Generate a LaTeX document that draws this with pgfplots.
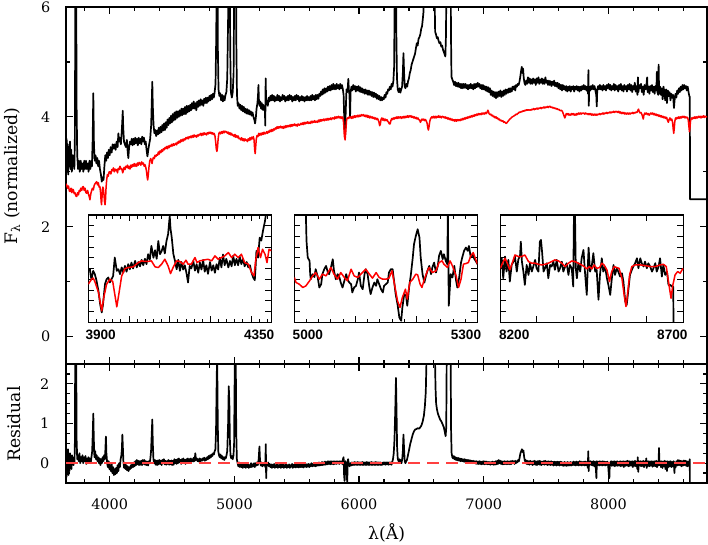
\documentclass[border=0pt]{standalone}
\usepackage{fontspec}
\setmainfont{DejaVu Serif}
\newfontfamily\insetfont{Liberation Sans}
\usepackage{pgfplots}
\pgfplotsset{compat=1.18}
\definecolor{zerored}{rgb}{1,0.25,0.25}

\pgfplotsset{
  spec/.style={
    scale only axis, anchor=south west,
    tick align=inside,
    axis line style={line width=0.7pt},
    every tick/.style={black, line width=0.6pt},
    major tick length=3.5pt, minor tick length=2.2pt,
    ticklabel style={font=\fontsize{7.2}{8}\selectfont},
    /pgf/number format/assume math mode=true,
    /pgf/number format/1000 sep={},
    scaled ticks=false,
    clip mode=individual,
  },
  inset/.style={
    scale only axis, anchor=south west,
    width=91.6pt, height=53.7pt,
    tick align=inside,
    axis background/.style={fill=white},
    axis line style={line width=0.6pt},
    every tick/.style={black, line width=0.5pt},
    major tick length=3pt, minor tick length=1.8pt,
    xticklabels={}, yticklabels={},
    ymin=-0.72, ymax=9.28,
    ytick={0.28,1.28,2.28,3.28,4.28,5.28,6.28,7.28,8.28},
    clip mode=individual,
  },
  obs/.style={black, line width=0.85pt, line join=round},
  mod/.style={red, line width=0.75pt, line join=round},
}
\tikzset{inlab/.style={font=\insetfont\bfseries\fontsize{6.8}{8}\selectfont, inner sep=0pt}}

\begin{document}
\begin{tikzpicture}
\useasboundingbox (0,0) rectangle (354pt,272.5pt);

% ---------------- main spectrum panel ----------------
\begin{axis}[spec, name=main, at={(33pt,90.5pt)}, width=320.5pt, height=178.5pt,
  xmin=3650, xmax=8790, ymin=-0.5, ymax=6,
  xtick={4000,5000,6000,7000,8000}, minor xtick={3800,4000,...,8600}, xticklabels={},
  ytick={0,2,4,6}, minor ytick={1,3,5},
  yticklabel style={xshift=-4.3pt}]
% observed
\addplot[obs] coordinates {
(3650,3.2) (3655,3.6) (3660,3.0) (3664,3.5) (3668,2.95) (3672,3.45) (3677,3.1) (3682,3.55) (3687,3.05) (3692,3.4)
(3697,3.0) (3702,3.3) (3707,3.1) (3712,3.25) (3717,3.05) (3721,3.6) (3724,5.5) (3727,7) (3731,7) (3735,4.2)
(3740,3.3) (3747,3.05) (3754,3.2) (3761,3.0) (3768,3.2) (3775,3.05) (3782,3.15) (3789,3.0) (3796,3.2) (3803,3.05)
(3810,3.2) (3817,3.05) (3824,3.15) (3831,3.0) (3838,3.2) (3845,3.05) (3852,3.2) (3858,3.1) (3864,3.6) (3869,4.43)
(3874,3.5) (3880,3.2) (3887,3.3) (3894,3.15) (3901,3.25) (3908,3.1) (3915,3.2) (3922,3.05) (3930,2.95) (3937,2.82)
(3944,2.9) (3951,2.85) (3958,3.1) (3965,3.3) (3972,3.2) (3979,3.35) (3986,3.25) (3993,3.4) (4000,3.3) (4008,3.45)
(4016,3.35) (4024,3.5) (4032,3.42) (4040,3.5) (4048,3.4) (4056,3.55) (4064,3.45) (4070,3.7) (4076,3.55) (4083,3.62)
(4090,3.5) (4096,3.7) (4101,3.9) (4105,4.11) (4109,3.8) (4115,3.55) (4122,3.5) (4130,3.45) (4138,3.58) (4145,3.35)
(4150,3.25) (4156,3.45) (4163,3.55) (4170,3.5) (4177,3.6) (4184,3.48) (4191,3.6) (4198,3.5) (4205,3.62) (4212,3.52)
(4219,3.6) (4226,3.48) (4233,3.62) (4240,3.52) (4247,3.6) (4254,3.5) (4261,3.64) (4268,3.55) (4275,3.62) (4282,3.5)
(4289,3.55) (4296,3.4) (4303,3.28) (4310,3.4) (4317,3.5) (4325,3.6) (4333,3.85) (4338,4.3) (4342,4.64) (4346,4.2)
(4352,3.85) (4359,3.7) (4366,3.76) (4373,3.65) (4380,3.75) (4387,3.68) (4394,3.8) (4401,3.7) (4408,3.82) (4415,3.72)
(4422,3.85) (4429,3.75) (4436,3.88) (4443,3.76) (4450,3.9) (4457,3.8) (4464,3.95) (4471,3.85) (4478,3.98) (4485,3.88)
(4492,4.02) (4499,3.9) (4506,4.05) (4513,3.93) (4520,4.08) (4527,3.95) (4534,4.1) (4541,3.98) (4548,4.1) (4555,4.0)
(4562,4.12) (4569,4.02) (4576,4.15) (4583,4.03) (4590,4.15) (4597,4.05) (4604,4.18) (4611,4.05) (4618,4.2) (4625,4.08)
(4632,4.2) (4639,4.1) (4646,4.22) (4653,4.12) (4660,4.25) (4667,4.15) (4674,4.28) (4681,4.15) (4688,4.25) (4695,4.12)
(4702,4.28) (4709,4.18) (4716,4.3) (4723,4.2) (4730,4.32) (4737,4.22) (4744,4.3) (4751,4.2) (4758,4.33) (4765,4.25)
(4772,4.35) (4779,4.25) (4786,4.35) (4793,4.28) (4800,4.38) (4807,4.3) (4814,4.4) (4821,4.32) (4828,4.42) (4835,4.35)
(4842,4.45) (4849,4.6) (4855,5.5) (4859,7) (4864,7) (4868,5.2) (4873,4.5) (4880,4.38) (4887,4.43) (4894,4.3)
(4901,4.4) (4908,4.28) (4915,4.38) (4922,4.3) (4929,4.4) (4936,4.45) (4943,4.7) (4950,5.8) (4955,7) (4962,7)
(4967,5.2) (4972,4.45) (4980,4.35) (4987,4.45) (4994,4.8) (4999,6.5) (5003,7) (5012,7) (5016,5.3) (5021,4.4)
(5027,4.2) (5034,4.25) (5041,4.15) (5048,4.22) (5055,4.12) (5062,4.2) (5069,4.1) (5076,4.18) (5083,4.08) (5090,4.15)
(5097,4.06) (5104,4.14) (5111,4.05) (5118,4.12) (5125,4.04) (5132,4.1) (5139,4.02) (5146,4.08) (5153,4.0) (5160,3.95)
(5166,3.88) (5172,3.98) (5178,4.15) (5185,4.25) (5190,4.4) (5193,4.58) (5197,4.3) (5202,4.2) (5208,4.28) (5214,4.15)
(5220,4.25) (5226,4.13) (5232,4.22) (5238,4.12) (5244,4.2) (5248,3.84) (5251,4.7) (5255,4.25) (5261,4.3) (5268,4.2)
(5275,4.35) (5282,4.28) (5289,4.38) (5296,4.3) (5303,4.4) (5310,4.3) (5317,4.38) (5324,4.28) (5331,4.36) (5338,4.3)
(5345,4.4) (5352,4.3) (5359,4.38) (5366,4.28) (5373,4.36) (5380,4.3) (5387,4.4) (5394,4.32) (5401,4.38) (5408,4.28)
(5415,4.36) (5422,4.3) (5429,4.38) (5436,4.3) (5443,4.4) (5450,4.32) (5457,4.38) (5464,4.28) (5471,4.36) (5478,4.3)
(5485,4.38) (5492,4.3) (5499,4.4) (5506,4.32) (5513,4.38) (5520,4.28) (5527,4.36) (5534,4.3) (5541,4.38) (5548,4.3)
(5555,4.36) (5562,4.28) (5569,4.36) (5576,4.3) (5583,4.38) (5590,4.3) (5597,4.36) (5604,4.3) (5611,4.38) (5618,4.3)
(5625,4.4) (5632,4.32) (5639,4.38) (5646,4.3) (5653,4.4) (5660,4.32) (5667,4.4) (5674,4.33) (5681,4.42) (5688,4.38)
(5695,4.46) (5702,4.4) (5709,4.5) (5716,4.42) (5723,4.52) (5730,4.44) (5737,4.52) (5744,4.46) (5751,4.55) (5758,4.48)
(5765,4.56) (5772,4.48) (5779,4.58) (5786,4.5) (5793,4.6) (5800,4.5) (5807,4.58) (5814,4.5) (5821,4.6) (5828,4.52)
(5835,4.58) (5842,4.5) (5849,4.6) (5856,4.52) (5863,4.58) (5870,4.5) (5876,4.4) (5882,3.9) (5888,3.64) (5893,4.1)
(5899,4.5) (5905,4.45) (5910,4.55) (5914,4.69) (5918,4.5) (5923,4.4) (5928,4.0) (5932,4.45) (5939,4.55) (5946,4.48)
(5953,4.58) (5960,4.5) (5967,4.56) (5974,4.46) (5981,4.55) (5988,4.48) (5995,4.56) (6002,4.46) (6009,4.54) (6016,4.45)
(6023,4.52) (6030,4.44) (6037,4.5) (6044,4.42) (6051,4.5) (6058,4.42) (6065,4.48) (6072,4.4) (6079,4.48) (6086,4.4)
(6093,4.46) (6100,4.38) (6107,4.45) (6114,4.36) (6121,4.44) (6128,4.36) (6135,4.42) (6142,4.33) (6149,4.4) (6156,4.32)
(6163,4.38) (6170,4.3) (6177,4.36) (6184,4.3) (6191,4.35) (6198,4.32) (6205,4.4) (6212,4.35) (6219,4.45) (6226,4.42)
(6233,4.5) (6240,4.48) (6247,4.55) (6254,4.5) (6261,4.6) (6268,4.55) (6275,4.65) (6281,4.9) (6285,6) (6289,7)
(6295,7) (6299,5.5) (6304,4.7) (6310,4.5) (6317,4.45) (6324,4.52) (6331,4.44) (6338,4.5) (6345,4.55) (6351,4.8)
(6356,5.16) (6361,4.8) (6366,4.55) (6372,4.52) (6379,4.6) (6386,4.55) (6393,4.65) (6400,4.7) (6407,4.8) (6414,4.85)
(6421,4.95) (6428,5.0) (6435,5.05) (6442,5.1) (6449,5.15) (6456,5.25) (6463,5.34) (6470,5.3) (6477,5.42) (6484,5.45)
(6491,5.5) (6498,5.6) (6505,5.65) (6512,5.8) (6516,5.9) (6520,6.2) (6525,7) (6600,7) (6605,6.3) (6610,5.55)
(6617,5.5) (6624,5.43) (6631,5.45) (6638,5.38) (6645,5.34) (6652,5.36) (6659,5.28) (6666,5.3) (6673,5.22) (6680,5.18)
(6687,5.13) (6692,5.1) (6697,5.5) (6702,7) (6734,7) (6737,5.5) (6741,4.73) (6748,4.68) (6755,4.64) (6762,4.58)
(6769,4.64) (6776,4.56) (6783,4.62) (6790,4.55) (6797,4.62) (6804,4.54) (6811,4.6) (6818,4.52) (6825,4.6) (6832,4.52)
(6839,4.6) (6846,4.53) (6853,4.6) (6860,4.52) (6867,4.58) (6874,4.5) (6881,4.58) (6888,4.52) (6895,4.6) (6902,4.52)
(6909,4.58) (6916,4.5) (6923,4.6) (6930,4.52) (6937,4.6) (6944,4.54) (6951,4.62) (6958,4.55) (6965,4.6) (6972,4.52)
(6979,4.58) (6986,4.5) (6993,4.58) (7000,4.5) (7007,4.56) (7014,4.48) (7021,4.55) (7028,4.46) (7035,4.54) (7042,4.45)
(7049,4.52) (7056,4.4) (7063,4.48) (7070,4.38) (7077,4.46) (7084,4.36) (7091,4.45) (7098,4.34) (7105,4.45) (7112,4.36)
(7119,4.46) (7126,4.38) (7133,4.48) (7140,4.36) (7147,4.46) (7154,4.38) (7161,4.48) (7168,4.4) (7175,4.5) (7182,4.42)
(7189,4.5) (7196,4.44) (7203,4.52) (7210,4.45) (7217,4.52) (7224,4.46) (7231,4.55) (7238,4.5) (7245,4.56) (7252,4.48)
(7259,4.58) (7266,4.55) (7273,4.6) (7280,4.58) (7287,4.65) (7294,4.75) (7300,4.85) (7305,4.91) (7310,4.8) (7315,4.88)
(7320,4.72) (7326,4.62) (7333,4.58) (7340,4.66) (7347,4.6) (7354,4.72) (7361,4.62) (7368,4.7) (7375,4.6) (7382,4.68)
(7389,4.6) (7396,4.7) (7403,4.62) (7410,4.68) (7417,4.58) (7424,4.7) (7431,4.62) (7438,4.72) (7445,4.6) (7452,4.68)
(7459,4.62) (7466,4.7) (7473,4.6) (7480,4.68) (7487,4.6) (7494,4.72) (7501,4.62) (7508,4.66) (7515,4.58) (7522,4.66)
(7529,4.58) (7536,4.65) (7543,4.56) (7550,4.64) (7557,4.58) (7564,4.66) (7571,4.56) (7578,4.62) (7585,4.55) (7592,4.62)
(7599,4.52) (7606,4.6) (7613,4.5) (7620,4.58) (7627,4.48) (7634,4.58) (7641,4.5) (7648,4.56) (7655,4.48) (7662,4.56)
(7669,4.46) (7676,4.55) (7683,4.48) (7690,4.56) (7697,4.46) (7704,4.55) (7711,4.5) (7718,4.56) (7725,4.46) (7732,4.55)
(7739,4.5) (7746,4.56) (7753,4.48) (7760,4.55) (7767,4.46) (7774,4.55) (7781,4.48) (7788,4.56) (7795,4.5) (7802,4.58)
(7809,4.5) (7816,4.56) (7823,4.48) (7830,4.55) (7836,4.42) (7839,4.85) (7842,4.2) (7846,4.55) (7853,4.48) (7860,4.56)
(7867,4.5) (7874,4.58) (7881,4.5) (7888,4.56) (7895,4.48) (7902,4.4) (7906,4.19) (7910,4.5) (7917,4.56) (7924,4.5)
(7931,4.58) (7938,4.5) (7945,4.56) (7952,4.48) (7959,4.58) (7966,4.5) (7973,4.56) (7980,4.48) (7987,4.58) (7994,4.52)
(8001,4.6) (8008,4.5) (8015,4.58) (8022,4.48) (8029,4.56) (8036,4.5) (8043,4.6) (8050,4.48) (8057,4.58) (8064,4.5)
(8071,4.56) (8078,4.46) (8085,4.58) (8092,4.5) (8099,4.6) (8106,4.48) (8113,4.56) (8120,4.46) (8127,4.58) (8134,4.5)
(8141,4.56) (8148,4.46) (8155,4.58) (8162,4.5) (8169,4.6) (8176,4.48) (8183,4.58) (8190,4.45) (8197,4.56) (8204,4.5)
(8211,4.62) (8218,4.46) (8225,4.56) (8232,4.4) (8236,4.72) (8240,4.45) (8247,4.58) (8254,4.52) (8261,4.6) (8268,4.45)
(8275,4.55) (8282,4.4) (8289,4.58) (8296,4.5) (8303,4.55) (8310,4.72) (8314,4.45) (8321,4.55) (8328,4.42) (8335,4.56)
(8342,4.48) (8349,4.58) (8356,4.45) (8363,4.55) (8370,4.42) (8377,4.56) (8384,4.48) (8388,4.82) (8392,4.45) (8399,4.4)
(8402,4.95) (8406,4.42) (8413,4.55) (8420,4.4) (8427,4.52) (8434,4.32) (8441,4.55) (8448,4.45) (8455,4.3) (8462,4.5)
(8469,4.25) (8476,4.48) (8483,4.38) (8490,4.45) (8497,4.3) (8504,4.42) (8511,4.35) (8518,4.4) (8525,4.16) (8530,4.3)
(8537,4.42) (8544,4.35) (8551,4.48) (8558,4.42) (8565,4.52) (8572,4.45) (8579,4.55) (8586,4.48) (8593,4.58) (8600,4.5)
(8607,4.58) (8614,4.52) (8621,4.56) (8628,4.48) (8635,4.55) (8642,4.45) (8649,4.37) (8652,4.37) (8654,2.5) (8790,2.5)
};
% model
\addplot[mod] coordinates {
(3650,2.78) (3655,2.76) (3663,2.7) (3670,2.74) (3677,2.65) (3682,2.64) (3690,2.7) (3697,2.62) (3703,2.68) (3709,2.67)
(3716,2.6) (3722,2.62) (3729,2.56) (3736,2.55) (3743,2.62) (3750,2.58) (3756,2.66) (3762,2.64) (3769,2.7) (3776,2.66)
(3782,2.72) (3789,2.73) (3796,2.66) (3803,2.7) (3809,2.62) (3816,2.61) (3823,2.66) (3829,2.6) (3836,2.55) (3842,2.49)
(3849,2.6) (3856,2.66) (3862,2.7) (3869,2.67) (3876,2.75) (3882,2.78) (3889,2.8) (3896,2.82) (3903,2.76) (3909,2.8)
(3916,2.72) (3922,2.73) (3928,2.6) (3932,2.45) (3935,2.40) (3938,2.5) (3942,2.68) (3946,2.72) (3949,2.7) (3954,2.6)
(3959,2.45) (3963,2.40) (3967,2.5) (3971,2.7) (3976,2.85) (3982,2.95) (3989,2.92) (3996,3.0) (4003,3.0) (4010,2.96)
(4017,3.04) (4024,3.02) (4030,3.07) (4037,3.0) (4043,3.05) (4050,3.02) (4056,3.04) (4063,2.98) (4069,3.06) (4076,3.04)
(4083,3.1) (4090,3.05) (4096,3.06) (4101,3.02) (4105,2.98) (4110,3.03) (4116,3.08) (4123,3.04) (4130,3.1) (4136,3.08)
(4143,3.12) (4150,3.06) (4156,3.1) (4163,3.05) (4170,3.12) (4176,3.08) (4183,3.13) (4190,3.1) (4197,3.15) (4203,3.1)
(4210,3.14) (4217,3.1) (4223,3.16) (4230,3.12) (4237,3.17) (4243,3.16) (4250,3.12) (4257,3.18) (4263,3.14) (4270,3.16)
(4277,3.1) (4283,3.13) (4290,3.08) (4296,3.0) (4301,2.9) (4305,2.85) (4310,2.95) (4316,3.1) (4322,3.2) (4329,3.24)
(4335,3.2) (4340,3.15) (4345,3.22) (4351,3.26) (4358,3.24) (4364,3.3) (4371,3.28) (4377,3.31) (4384,3.3) (4391,3.36)
(4397,3.32) (4404,3.38) (4411,3.35) (4417,3.4) (4424,3.37) (4431,3.42) (4437,3.4) (4444,3.44) (4450,3.42) (4457,3.46)
(4464,3.42) (4471,3.47) (4477,3.44) (4484,3.48) (4491,3.46) (4497,3.5) (4504,3.47) (4511,3.51) (4517,3.48) (4524,3.5)
(4531,3.52) (4537,3.49) (4544,3.54) (4551,3.52) (4557,3.56) (4564,3.53) (4571,3.58) (4577,3.55) (4584,3.59) (4591,3.56)
(4597,3.6) (4604,3.58) (4611,3.62) (4617,3.6) (4624,3.63) (4631,3.6) (4637,3.64) (4644,3.62) (4651,3.65) (4657,3.62)
(4664,3.66) (4671,3.63) (4677,3.67) (4684,3.64) (4691,3.66) (4697,3.63) (4704,3.67) (4711,3.65) (4717,3.68) (4724,3.67)
(4731,3.7) (4737,3.66) (4744,3.7) (4751,3.67) (4757,3.71) (4764,3.68) (4771,3.7) (4777,3.67) (4784,3.71) (4791,3.69)
(4797,3.72) (4804,3.7) (4811,3.72) (4817,3.69) (4824,3.71) (4831,3.68) (4837,3.7) (4844,3.66) (4850,3.55) (4855,3.42)
(4860,3.37) (4865,3.45) (4870,3.6) (4876,3.7) (4883,3.72) (4890,3.69) (4897,3.73) (4904,3.7) (4911,3.74) (4918,3.71)
(4925,3.74) (4932,3.72) (4938,3.73) (4945,3.7) (4952,3.72) (4958,3.68) (4965,3.71) (4972,3.67) (4978,3.7) (4985,3.66)
(4991,3.67) (4998,3.64) (5005,3.68) (5011,3.63) (5018,3.66) (5025,3.62) (5031,3.65) (5038,3.6) (5045,3.61) (5051,3.58)
(5058,3.62) (5065,3.57) (5071,3.6) (5078,3.56) (5085,3.6) (5091,3.57) (5098,3.58) (5105,3.55) (5111,3.6) (5118,3.57)
(5125,3.62) (5131,3.58) (5138,3.63) (5145,3.6) (5152,3.64) (5158,3.58) (5163,3.4) (5167,3.33) (5171,3.45) (5176,3.6)
(5182,3.66) (5189,3.64) (5196,3.7) (5203,3.66) (5210,3.7) (5217,3.67) (5224,3.71) (5231,3.68) (5238,3.72) (5245,3.69)
(5252,3.7) (5259,3.73) (5266,3.7) (5273,3.74) (5280,3.72) (5287,3.76) (5294,3.73) (5301,3.77) (5308,3.74) (5315,3.78)
(5322,3.76) (5329,3.8) (5336,3.78) (5343,3.82) (5350,3.79) (5357,3.82) (5364,3.8) (5371,3.83) (5378,3.8) (5385,3.82)
(5392,3.79) (5399,3.83) (5406,3.8) (5413,3.84) (5420,3.81) (5427,3.84) (5434,3.82) (5441,3.85) (5448,3.82) (5455,3.86)
(5462,3.83) (5469,3.86) (5476,3.84) (5483,3.87) (5490,3.84) (5497,3.86) (5504,3.83) (5511,3.87) (5518,3.85) (5525,3.85)
(5532,3.88) (5539,3.86) (5546,3.89) (5553,3.86) (5560,3.9) (5567,3.87) (5574,3.9) (5581,3.88) (5588,3.91) (5595,3.88)
(5602,3.9) (5609,3.88) (5616,3.92) (5623,3.89) (5630,3.92) (5637,3.9) (5644,3.93) (5651,3.9) (5660,3.92) (5667,3.9)
(5674,3.94) (5681,3.91) (5688,3.95) (5695,3.92) (5702,3.95) (5709,3.93) (5716,3.96) (5723,3.93) (5730,3.96) (5737,3.94)
(5744,3.97) (5751,3.94) (5758,3.97) (5765,3.95) (5772,3.98) (5779,3.95) (5786,3.98) (5793,3.98) (5800,3.96) (5807,4.0)
(5814,3.97) (5821,4.0) (5828,3.98) (5835,4.01) (5842,3.98) (5849,4.0) (5856,3.97) (5863,4.0) (5870,3.98) (5876,3.9)
(5882,3.65) (5888,3.58) (5894,3.75) (5900,3.95) (5907,3.98) (5914,3.97) (5921,4.0) (5928,3.98) (5935,4.0) (5942,3.97)
(5949,4.01) (5956,3.98) (5963,4.02) (5970,3.99) (5977,4.02) (5984,4.0) (5991,4.03) (5998,4.0) (6005,4.03) (6012,4.01)
(6019,4.04) (6026,4.02) (6035,4.04) (6042,4.01) (6049,4.03) (6056,4.0) (6063,4.03) (6070,3.99) (6077,4.02) (6084,3.98)
(6091,4.01) (6098,3.98) (6105,4.0) (6112,3.97) (6119,3.99) (6126,3.96) (6133,3.98) (6140,3.95) (6147,3.97) (6154,3.94)
(6160,3.9) (6165,3.84) (6170,3.86) (6176,3.95) (6183,3.98) (6190,3.94) (6195,3.97) (6202,3.93) (6209,3.96) (6216,3.93)
(6223,3.95) (6230,3.92) (6237,3.9) (6243,3.87) (6249,3.87) (6255,3.93) (6262,3.97) (6269,3.95) (6276,3.98) (6283,3.96)
(6290,3.99) (6297,3.97) (6304,4.0) (6311,3.97) (6318,4.0) (6325,3.98) (6332,4.0) (6339,3.97) (6346,4.0) (6353,3.98)
(6360,4.01) (6367,3.98) (6374,4.01) (6381,3.99) (6388,4.02) (6395,3.99) (6402,4.02) (6409,4.0) (6416,4.02) (6423,3.99)
(6430,4.01) (6437,3.98) (6444,4.0) (6451,3.97) (6458,3.99) (6465,3.96) (6472,3.98) (6479,3.95) (6486,3.94) (6492,3.9)
(6498,3.93) (6505,3.96) (6512,3.94) (6519,3.96) (6526,3.93) (6533,3.95) (6540,3.92) (6546,3.88) (6551,3.8) (6556,3.76)
(6561,3.82) (6567,3.92) (6574,3.97) (6583,4.0) (6590,3.98) (6597,4.01) (6604,3.98) (6611,4.01) (6618,3.98) (6625,4.01)
(6632,3.99) (6639,4.02) (6646,3.99) (6653,4.01) (6660,3.98) (6667,4.01) (6676,4.0) (6683,3.98) (6690,4.0) (6697,3.97)
(6704,3.99) (6711,3.96) (6718,3.98) (6725,3.95) (6732,3.97) (6739,3.94) (6746,3.96) (6753,3.93) (6760,3.95) (6767,3.92)
(6774,3.95) (6781,3.92) (6788,3.95) (6795,3.93) (6802,3.95) (6810,3.93) (6817,3.96) (6824,3.94) (6831,3.97) (6838,3.95)
(6845,3.98) (6852,3.96) (6859,3.99) (6866,3.97) (6873,4.0) (6880,3.98) (6887,4.01) (6894,3.99) (6901,4.02) (6908,4.0)
(6915,4.03) (6922,4.01) (6929,4.04) (6936,4.02) (6944,4.05) (6951,4.03) (6958,4.06) (6965,4.04) (6972,4.06) (6979,4.04)
(6986,4.07) (6993,4.05) (7000,4.07) (7007,4.05) (7014,4.08) (7021,4.06) (7028,4.09) (7033,4.12) (7037,4.1) (7042,4.06)
(7049,4.04) (7056,4.05) (7063,4.02) (7070,4.03) (7077,4.0) (7084,4.01) (7091,3.98) (7098,4.0) (7104,3.97) (7111,3.98)
(7118,3.95) (7125,3.96) (7132,3.93) (7139,3.94) (7146,3.92) (7153,3.93) (7160,3.9) (7167,3.91) (7174,3.89) (7181,3.88)
(7188,3.9) (7195,3.92) (7202,3.94) (7209,3.96) (7216,3.97) (7223,3.99) (7230,4.0) (7237,4.01) (7244,4.02) (7251,4.03)
(7258,4.05) (7265,4.04) (7272,4.06) (7279,4.07) (7286,4.09) (7293,4.08) (7300,4.1) (7307,4.09) (7314,4.11) (7321,4.1)
(7328,4.12) (7335,4.11) (7342,4.13) (7349,4.12) (7356,4.13) (7363,4.12) (7371,4.13) (7378,4.12) (7385,4.14) (7392,4.13)
(7399,4.15) (7406,4.13) (7413,4.15) (7420,4.14) (7427,4.16) (7434,4.14) (7441,4.16) (7448,4.15) (7455,4.17) (7462,4.15)
(7469,4.17) (7476,4.16) (7483,4.18) (7490,4.16) (7497,4.18) (7504,4.17) (7511,4.19) (7518,4.17) (7525,4.19) (7532,4.19)
(7539,4.17) (7546,4.18) (7553,4.16) (7560,4.17) (7567,4.15) (7574,4.16) (7581,4.14) (7588,4.15) (7595,4.13) (7602,4.14)
(7609,4.12) (7616,4.11) (7623,4.12) (7630,4.1) (7637,4.06) (7643,4.02) (7650,3.98) (7656,4.02) (7662,4.06) (7669,4.04)
(7676,4.06) (7683,4.03) (7690,4.05) (7697,4.03) (7704,4.06) (7711,4.04) (7718,4.06) (7725,4.03) (7732,4.05) (7739,4.03)
(7746,4.06) (7753,4.04) (7760,4.07) (7767,4.05) (7774,4.07) (7781,4.05) (7788,4.07) (7795,4.06) (7802,4.07) (7809,4.05)
(7816,4.07) (7823,4.05) (7830,4.06) (7837,4.04) (7844,4.06) (7851,4.04) (7858,4.06) (7865,4.03) (7872,4.05) (7879,4.03)
(7886,4.05) (7893,4.03) (7900,4.05) (7907,4.03) (7914,4.05) (7921,4.04) (7928,4.06) (7935,4.04) (7942,4.06) (7949,4.05)
(7956,4.07) (7963,4.05) (7970,4.07) (7977,4.06) (7984,4.08) (7991,4.06) (7998,4.08) (8005,4.07) (8012,4.09) (8019,4.07)
(8026,4.09) (8033,4.08) (8040,4.1) (8047,4.08) (8054,4.1) (8061,4.09) (8068,4.1) (8075,4.08) (8082,4.1) (8089,4.07)
(8096,4.09) (8103,4.06) (8110,4.08) (8117,4.06) (8124,4.08) (8131,4.05) (8138,4.07) (8145,4.05) (8152,4.07) (8159,4.05)
(8166,4.07) (8173,4.05) (8180,4.07) (8187,4.06) (8194,4.08) (8201,4.06) (8208,4.08) (8215,4.07) (8222,4.09) (8229,4.08)
(8236,4.12) (8241,4.14) (8246,4.1) (8253,4.07) (8260,4.08) (8267,4.05) (8274,4.0) (8279,3.96) (8284,4.03) (8291,4.07)
(8298,4.05) (8305,4.07) (8312,4.04) (8319,4.06) (8326,4.03) (8333,4.05) (8340,4.07) (8347,4.05) (8354,4.07) (8361,4.04)
(8368,4.06) (8375,4.03) (8382,4.05) (8389,4.02) (8396,4.04) (8403,4.01) (8410,4.03) (8417,4.0) (8424,4.02) (8431,3.99)
(8438,4.01) (8445,3.98) (8452,4.0) (8459,3.97) (8466,3.99) (8473,3.94) (8480,3.9) (8486,3.95) (8493,3.98) (8500,3.94)
(8507,3.96) (8514,3.9) (8519,3.78) (8523,3.7) (8527,3.78) (8532,3.92) (8538,3.98) (8544,3.96) (8550,3.99) (8557,3.97)
(8564,4.0) (8571,3.97) (8578,4.0) (8585,3.98) (8592,4.01) (8599,3.99) (8606,4.01) (8613,3.98) (8620,4.0) (8627,3.98)
(8634,3.99) (8640,3.94) (8645,3.82) (8649,3.73) (8653,3.8) (8658,3.93) (8665,3.98) (8672,3.96) (8679,3.99) (8686,3.97)
(8693,4.0) (8700,3.97) (8707,4.0) (8714,3.98) (8721,4.01) (8728,3.99) (8735,4.01) (8742,3.98) (8749,4.01) (8756,3.99)
(8763,4.02) (8770,3.99) (8777,4.01) (8784,4.0) (8790,4.0)
};
\end{axis}

% ---------------- residual panel ----------------
\begin{axis}[spec, name=res, at={(33pt,31pt)}, width=320.5pt, height=59.5pt,
  xmin=3650, xmax=8790, ymin=-0.5, ymax=2.5,
  xtick={4000,5000,6000,7000,8000}, minor xtick={3800,4000,...,8600},
  ytick={0,1,2}, minor ytick={-0.25,0.25,0.5,0.75,1.25,1.5,1.75,2.25},
  xticklabel style={yshift=-4.5pt}, yticklabel style={xshift=-4.8pt}]
\addplot[obs] coordinates {
(3650,0.3) (3654,-0.35) (3658,0.2) (3662,-0.1) (3666,0.35) (3670,-0.3) (3674,0.1) (3678,-0.2) (3682,0.25) (3686,-0.05)
(3690,0.15) (3694,-0.15) (3698,0.2) (3702,0.0) (3706,0.15) (3710,-0.05) (3714,0.1) (3718,0.0) (3721,0.5) (3724,2.8)
(3732,2.8) (3735,0.6) (3740,0.1) (3746,0.2) (3752,0.05) (3758,0.25) (3764,0.0) (3770,0.15) (3776,0.05) (3782,0.2)
(3788,0.0) (3794,0.15) (3800,0.05) (3806,0.18) (3812,-0.02) (3818,0.12) (3824,0.0) (3830,0.15) (3836,0.02) (3842,0.12)
(3848,0.0) (3854,0.15) (3860,0.3) (3865,0.8) (3869,1.25) (3873,0.6) (3878,0.15) (3884,0.3) (3890,0.1) (3896,0.2)
(3902,0.05) (3908,0.15) (3914,0.0) (3920,0.12) (3926,-0.05) (3932,0.1) (3938,0.0) (3944,0.15) (3950,0.05) (3956,0.2)
(3962,0.1) (3966,0.35) (3970,0.67) (3974,0.25) (3980,0.0) (3986,-0.1) (3992,0.05) (3998,-0.15) (4004,-0.05) (4010,-0.2)
(4016,0.0) (4022,-0.25) (4028,-0.1) (4034,-0.3) (4040,-0.15) (4046,-0.28) (4052,-0.12) (4058,-0.25) (4064,-0.05) (4070,-0.2)
(4076,0.0) (4082,-0.1) (4088,0.1) (4094,0.2) (4098,0.35) (4102,0.72) (4106,0.4) (4110,0.05) (4116,-0.12) (4122,-0.02)
(4128,-0.15) (4134,-0.05) (4140,-0.18) (4146,-0.08) (4152,-0.2) (4158,-0.1) (4164,-0.15) (4170,-0.05) (4176,-0.12) (4182,0.0)
(4188,-0.1) (4194,0.02) (4200,-0.08) (4206,0.05) (4212,-0.05) (4218,0.08) (4224,-0.03) (4230,0.06) (4236,-0.05) (4242,0.05)
(4248,-0.04) (4254,0.06) (4260,-0.05) (4266,0.08) (4272,-0.02) (4278,0.08) (4284,-0.04) (4290,0.05) (4296,-0.05) (4302,0.04)
(4308,-0.06) (4314,0.05) (4320,0.0) (4326,0.1) (4332,0.3) (4337,0.7) (4342,1.1) (4346,0.5) (4351,0.1) (4357,0.0)
(4363,0.08) (4369,-0.04) (4375,0.06) (4381,-0.05) (4387,0.07) (4393,-0.03) (4399,0.08) (4405,-0.02) (4411,0.06) (4417,-0.05)
(4423,0.08) (4429,0.0) (4435,0.1) (4441,-0.03) (4447,0.06) (4453,-0.04) (4459,0.05) (4465,-0.02) (4471,0.08) (4477,-0.04)
(4483,0.06) (4489,-0.03) (4495,0.07) (4501,-0.05) (4507,0.06) (4513,-0.04) (4519,0.1) (4525,0.0) (4531,0.08) (4537,-0.02)
(4543,0.1) (4549,0.0) (4555,0.12) (4561,0.02) (4567,0.08) (4573,-0.02) (4579,0.1) (4585,0.03) (4591,0.12) (4597,0.02)
(4603,0.08) (4609,-0.02) (4615,0.1) (4621,0.02) (4627,0.12) (4633,0.04) (4639,0.1) (4645,0.02) (4651,0.12) (4657,0.05)
(4663,0.1) (4669,0.04) (4675,0.14) (4681,0.05) (4687,0.25) (4692,0.08) (4698,0.12) (4704,0.05) (4710,0.1) (4716,0.04)
(4722,0.12) (4728,0.05) (4734,0.1) (4740,0.06) (4746,0.12) (4752,0.08) (4758,0.14) (4764,0.06) (4770,0.12) (4776,0.08)
(4782,0.15) (4788,0.1) (4794,0.18) (4800,0.12) (4806,0.2) (4812,0.15) (4818,0.22) (4824,0.18) (4830,0.25) (4836,0.22)
(4842,0.3) (4848,0.35) (4853,0.8) (4858,2.0) (4862,2.8) (4867,1.0) (4871,0.3) (4877,0.2) (4883,0.15) (4889,0.22)
(4895,0.12) (4901,0.18) (4907,0.1) (4913,0.15) (4919,0.08) (4925,0.15) (4931,0.12) (4937,0.2) (4943,0.3) (4950,1.0)
(4955,1.94) (4960,1.5) (4964,0.6) (4969,0.2) (4975,0.12) (4981,0.18) (4987,0.1) (4993,0.2) (4998,0.5) (5002,2.0)
(5005,2.8) (5011,2.8) (5015,0.8) (5020,0.1) (5026,0.0) (5032,-0.08) (5038,0.02) (5044,-0.1) (5050,-0.02) (5056,-0.1)
(5062,0.0) (5068,-0.12) (5074,-0.03) (5080,-0.1) (5086,0.0) (5092,-0.12) (5098,-0.04) (5104,-0.1) (5110,0.0) (5116,-0.12)
(5122,-0.05) (5128,-0.1) (5134,0.0) (5140,-0.1) (5146,-0.03) (5152,-0.08) (5158,0.0) (5164,-0.1) (5170,0.0) (5176,-0.06)
(5182,0.02) (5188,-0.05) (5195,0.1) (5201,0.42) (5206,0.05) (5212,-0.06) (5218,0.02) (5224,-0.08) (5230,0.0) (5236,-0.06)
(5242,0.02) (5248,-0.1) (5252,0.48) (5255,-0.38) (5259,0.0) (5265,-0.06) (5271,0.02) (5277,-0.08) (5283,-0.02) (5289,-0.1)
(5295,-0.03) (5301,-0.12) (5307,-0.04) (5313,-0.1) (5319,-0.02) (5325,-0.12) (5331,-0.05) (5337,-0.1) (5343,-0.02) (5349,-0.12)
(5355,-0.05) (5361,-0.1) (5367,-0.03) (5373,-0.12) (5379,-0.04) (5385,-0.1) (5391,-0.02) (5397,-0.12) (5403,-0.05) (5409,-0.1)
(5415,-0.02) (5421,-0.12) (5427,-0.05) (5433,-0.1) (5439,-0.03) (5445,-0.12) (5451,-0.05) (5457,-0.09) (5463,-0.02) (5469,-0.12)
(5475,-0.04) (5481,-0.1) (5487,-0.03) (5493,-0.11) (5499,-0.04) (5505,-0.1) (5511,-0.02) (5517,-0.11) (5523,-0.04) (5529,-0.1)
(5535,-0.02) (5541,-0.1) (5547,-0.03) (5553,-0.11) (5559,-0.04) (5565,-0.09) (5571,-0.02) (5577,-0.1) (5583,-0.03) (5589,-0.09)
(5595,-0.02) (5601,-0.1) (5607,-0.03) (5613,-0.08) (5619,0.0) (5625,-0.08) (5631,-0.02) (5637,-0.07) (5643,0.0) (5649,-0.08)
(5655,-0.02) (5661,-0.07) (5667,0.0) (5673,-0.06) (5679,0.02) (5685,-0.06) (5691,0.0) (5697,-0.05) (5703,0.03) (5709,-0.05)
(5715,0.02) (5721,-0.04) (5727,0.04) (5733,-0.04) (5739,0.03) (5745,-0.03) (5751,0.05) (5757,-0.02) (5763,0.04) (5769,-0.03)
(5775,0.05) (5781,-0.02) (5787,0.04) (5793,-0.03) (5799,0.05) (5805,-0.02) (5811,0.04) (5817,-0.02) (5823,0.05) (5829,-0.01)
(5835,0.04) (5841,-0.02) (5847,0.05) (5853,0.0) (5859,0.04) (5865,-0.02) (5871,0.1) (5876,0.15) (5880,-0.3) (5884,-0.45)
(5888,-0.2) (5893,0.05) (5899,-0.05) (5905,-0.5) (5908,-0.1) (5912,0.1) (5918,-0.02) (5924,-0.08) (5930,0.0) (5936,-0.06)
(5942,0.02) (5948,-0.05) (5954,0.02) (5960,-0.05) (5966,0.03) (5972,-0.04) (5978,0.02) (5984,-0.05) (5990,0.03) (5996,-0.04)
(6002,0.02) (6008,-0.05) (6014,0.02) (6020,-0.04) (6026,0.03) (6032,-0.05) (6038,0.02) (6044,-0.04) (6050,0.02) (6056,-0.05)
(6062,0.03) (6068,-0.04) (6074,0.02) (6080,-0.05) (6086,0.02) (6092,-0.04) (6098,0.03) (6104,-0.05) (6110,0.02) (6116,-0.04)
(6122,0.02) (6128,-0.05) (6134,0.03) (6140,-0.04) (6146,0.02) (6152,-0.05) (6158,0.02) (6164,-0.04) (6170,0.02) (6176,-0.05)
(6182,0.01) (6188,-0.04) (6194,0.02) (6200,-0.03) (6206,0.02) (6212,-0.04) (6218,0.02) (6224,-0.03) (6230,0.02) (6236,-0.04)
(6242,0.02) (6248,-0.03) (6254,0.02) (6260,-0.04) (6266,0.03) (6272,0.1) (6278,0.25) (6284,0.6) (6290,1.3) (6296,2.15)
(6300,1.4) (6305,0.4) (6310,0.12) (6316,0.05) (6322,0.1) (6328,0.02) (6334,0.08) (6340,0.0) (6346,0.1) (6351,0.3)
(6356,0.72) (6361,0.35) (6366,0.05) (6372,0.0) (6378,0.05) (6384,0.08) (6392,0.2) (6400,0.32) (6410,0.48) (6420,0.6)
(6430,0.72) (6440,0.8) (6450,0.85) (6460,0.86) (6470,0.88) (6480,0.87) (6490,0.9) (6500,0.95) (6510,1.05) (6520,1.2)
(6528,1.45) (6535,1.8) (6542,2.8) (6608,2.8) (6613,1.9) (6618,1.5) (6625,1.35) (6632,1.25) (6640,1.18) (6650,1.1)
(6660,1.05) (6670,0.98) (6680,0.9) (6688,0.78) (6694,0.68) (6699,0.9) (6703,2.8) (6734,2.8) (6738,0.8) (6742,0.25)
(6748,0.15) (6754,0.12) (6760,0.18) (6766,0.1) (6772,0.15) (6778,0.08) (6784,0.14) (6790,0.07) (6796,0.13) (6802,0.06)
(6808,0.12) (6814,0.05) (6820,0.11) (6826,0.05) (6832,0.1) (6838,0.04) (6844,0.1) (6850,0.03) (6856,0.09) (6862,0.03)
(6868,0.08) (6874,0.02) (6880,0.08) (6886,0.02) (6892,0.07) (6898,0.01) (6904,0.06) (6910,0.0) (6916,0.06) (6922,0.0)
(6928,0.05) (6934,-0.01) (6940,0.05) (6946,-0.02) (6952,0.04) (6958,-0.02) (6964,0.05) (6970,-0.02) (6976,0.04) (6982,-0.03)
(6988,0.04) (6994,-0.02) (7000,0.05) (7006,-0.03) (7012,0.04) (7018,-0.02) (7024,0.04) (7030,-0.03) (7036,0.03) (7042,-0.03)
(7048,0.03) (7054,-0.04) (7060,0.03) (7066,-0.03) (7072,0.04) (7078,-0.04) (7084,0.03) (7090,-0.04) (7096,0.05) (7102,-0.03)
(7108,0.06) (7114,-0.02) (7120,0.08) (7126,0.0) (7132,0.06) (7138,-0.02) (7144,0.05) (7150,-0.03) (7156,0.04) (7162,-0.03)
(7168,0.05) (7174,-0.02) (7180,0.04) (7186,-0.03) (7192,0.05) (7198,-0.02) (7204,0.04) (7210,-0.03) (7216,0.05) (7222,-0.02)
(7228,0.06) (7234,0.0) (7240,0.05) (7246,-0.02) (7252,0.06) (7258,0.0) (7264,0.05) (7270,0.02) (7276,0.08) (7282,0.05)
(7288,0.15) (7294,0.25) (7300,0.3) (7306,0.35) (7312,0.28) (7318,0.32) (7324,0.15) (7330,0.05) (7336,0.08) (7342,-0.02)
(7348,0.06) (7354,-0.03) (7360,0.05) (7366,-0.04) (7372,0.06) (7378,-0.02) (7384,0.04) (7390,-0.05) (7396,0.05) (7402,-0.03)
(7408,0.06) (7414,-0.04) (7420,0.04) (7426,-0.05) (7432,0.05) (7438,-0.03) (7444,0.06) (7450,-0.04) (7456,0.05) (7462,-0.05)
(7468,0.04) (7474,-0.03) (7480,0.05) (7486,-0.04) (7492,0.06) (7498,-0.03) (7504,0.04) (7510,-0.05) (7516,0.05) (7522,-0.04)
(7528,0.04) (7534,-0.05) (7540,0.05) (7546,-0.04) (7552,0.03) (7558,-0.06) (7564,0.04) (7570,-0.05) (7576,0.03) (7582,-0.06)
(7588,0.04) (7594,-0.05) (7600,0.03) (7606,-0.06) (7612,0.04) (7618,-0.05) (7624,0.03) (7630,-0.06) (7636,0.02) (7642,-0.07)
(7648,0.03) (7654,-0.06) (7660,0.02) (7666,-0.07) (7672,0.03) (7678,-0.06) (7684,0.02) (7690,-0.06) (7696,0.03) (7702,-0.06)
(7708,0.02) (7714,-0.05) (7720,0.04) (7726,-0.05) (7732,0.03) (7738,-0.06) (7744,0.04) (7750,-0.05) (7756,0.03) (7762,-0.06)
(7768,0.05) (7774,-0.05) (7780,0.04) (7786,-0.06) (7792,0.03) (7798,-0.05) (7804,0.04) (7810,-0.06) (7816,0.04) (7822,-0.05)
(7828,0.03) (7834,-0.12) (7838,0.3) (7841,-0.2) (7845,0.05) (7851,-0.04) (7857,0.05) (7863,-0.05) (7869,0.04) (7875,-0.06)
(7881,0.05) (7887,-0.08) (7893,0.04) (7899,-0.15) (7903,-0.38) (7907,0.05) (7913,-0.05) (7919,0.04) (7925,-0.06) (7931,0.05)
(7937,-0.05) (7943,0.04) (7949,-0.06) (7955,0.05) (7961,-0.05) (7967,0.04) (7973,-0.06) (7979,0.03) (7985,-0.05) (7991,0.04)
(7997,-0.05) (8003,-0.3) (8007,-0.38) (8011,0.02) (8015,-0.05) (8021,0.05) (8027,-0.07) (8033,0.04) (8039,-0.06) (8045,0.05)
(8051,-0.08) (8057,0.04) (8063,-0.06) (8069,0.05) (8075,-0.07) (8081,0.03) (8087,-0.06) (8093,0.05) (8099,-0.08) (8105,0.04)
(8111,-0.06) (8117,0.05) (8123,-0.1) (8129,0.04) (8135,-0.07) (8141,0.05) (8147,-0.06) (8153,0.06) (8159,-0.08) (8165,0.05)
(8171,-0.07) (8177,0.04) (8183,-0.06) (8189,0.05) (8195,-0.1) (8201,0.04) (8207,-0.07) (8213,0.06) (8219,-0.08) (8225,0.04)
(8231,-0.15) (8235,0.15) (8239,-0.22) (8243,0.05) (8249,-0.06) (8255,0.05) (8261,-0.08) (8267,0.04) (8273,-0.07) (8279,0.06)
(8285,-0.1) (8291,0.04) (8297,-0.06) (8303,0.12) (8307,-0.12) (8311,0.05) (8317,-0.07) (8323,0.05) (8329,-0.08) (8335,0.04)
(8341,-0.06) (8347,0.05) (8353,-0.09) (8359,0.04) (8365,-0.07) (8371,0.05) (8377,-0.08) (8383,0.06) (8389,-0.1) (8395,0.04)
(8401,-0.06) (8405,0.38) (8409,-0.05) (8415,0.05) (8421,-0.1) (8427,0.05) (8433,-0.12) (8439,0.04) (8445,-0.08) (8451,0.06)
(8457,-0.15) (8463,0.04) (8469,-0.2) (8475,0.05) (8481,-0.1) (8487,0.04) (8493,-0.08) (8499,0.05) (8505,-0.1) (8511,0.03)
(8517,-0.08) (8523,0.05) (8529,-0.25) (8533,0.02) (8539,-0.1) (8545,0.05) (8551,-0.06) (8557,0.08) (8563,-0.05) (8569,0.07)
(8575,-0.06) (8581,0.06) (8587,-0.08) (8593,0.05) (8599,-0.06) (8605,0.07) (8611,-0.05) (8617,0.06) (8623,-0.07) (8629,0.05)
(8635,-0.08) (8641,0.04) (8647,-0.05) (8652,0.1) (8654,-1.5) (8790,-1.5)
};
\addplot[zerored, line width=0.75pt, dash pattern=on 6pt off 3.5pt]
  coordinates {(3650,0) (8790,0)};
\end{axis}

% ---------------- inset 1 ----------------
\begin{axis}[inset, name=ins1, at={(44.15pt,111.3pt)},
  xmin=3900, xmax=4350, xtick={4000,4100,4200,4300}, minor xtick={3920,3940,...,4340}]
\addplot[obs] coordinates {
(3900,4.08) (3904,4.23) (3906,3.6) (3908,3.30) (3912,4.08) (3916,3.77) (3920,3.2) (3925,2.2) (3929,1.0) (3933,0.21)
(3936,0.9) (3941,2.84) (3945,3.3) (3949,3.46) (3953,3.0) (3957,3.30) (3961,3.61) (3965,5.32) (3970,4.08) (3974,4.23)
(3978,3.77) (3982,4.4) (3986,3.92) (3990,4.54) (3994,4.0) (3998,4.7) (4002,4.23) (4006,4.85) (4010,4.3) (4015,5.01)
(4019,4.4) (4023,4.9) (4027,4.5) (4031,5.1) (4035,4.6) (4039,5.2) (4043,4.7) (4047,5.63) (4051,5.1) (4055,6.40)
(4060,5.3) (4064,6.0) (4068,5.2) (4072,6.86) (4076,5.63) (4080,5.9) (4084,6.4) (4088,5.7) (4092,6.86) (4096,7.48)
(4100,9.19) (4102,8.0) (4105,7.17) (4109,5.63) (4113,5.0) (4117,4.23) (4121,5.1) (4125,4.08) (4129,4.9) (4133,4.2)
(4137,4.6) (4141,3.9) (4145,2.99) (4149,4.54) (4153,4.3) (4158,5.0) (4162,4.1) (4166,4.7) (4170,3.9) (4174,4.85)
(4178,4.2) (4182,5.1) (4186,4.0) (4190,4.6) (4194,3.8) (4199,4.9) (4203,4.1) (4207,4.6) (4211,3.9) (4215,4.7)
(4219,4.2) (4223,5.3) (4227,4.4) (4231,5.6) (4235,4.6) (4239,5.2) (4244,4.4) (4248,5.0) (4252,4.5) (4256,5.5)
(4260,4.6) (4264,5.2) (4268,4.6) (4272,5.4) (4276,4.7) (4280,5.2) (4284,4.5) (4289,4.9) (4293,4.4) (4297,4.6)
(4301,3.92) (4305,3.46) (4309,3.21) (4311,4.5) (4313,5.94) (4317,5.3) (4321,7.17) (4325,6.9) (4329,7.79) (4334,8.72)
(4338,9.8) (4342,9.6) (4346,10) (4350,9.8)
};
\addplot[mod] coordinates {
(3900,2.84) (3908,3.30) (3912,3.40) (3916,3.09) (3925,2.07) (3933,0.36) (3938,1.60) (3945,2.84) (3953,3.30) (3960,3.09)
(3965,1.91) (3970,0.73) (3975,1.91) (3982,3.61) (3990,4.29) (3998,4.39) (4010,4.45) (4023,4.85) (4031,5.01) (4039,4.95)
(4047,4.95) (4055,5.01) (4064,4.45) (4072,4.39) (4080,4.70) (4088,5.16) (4096,4.54) (4102,3.83) (4109,4.45) (4117,5.01)
(4125,4.95) (4133,4.70) (4140,5.07) (4145,4.70) (4153,4.70) (4162,5.32) (4167,4.85) (4174,5.01) (4182,5.07) (4194,5.16)
(4203,5.01) (4211,5.47) (4219,5.16) (4227,5.32) (4235,5.47) (4244,5.78) (4252,5.32) (4260,5.63) (4268,5.32) (4276,5.63)
(4284,4.85) (4293,4.70) (4301,3.92) (4307,3.61) (4311,5.01) (4317,6.25) (4323,5.32) (4328,6.09) (4334,5.63) (4339,4.85)
(4344,6.09) (4350,5.94)
};
\end{axis}
\node[inlab, anchor=north west] at ([xshift=-1.6pt,yshift=-3.4pt]ins1.south west) {3900};
\node[inlab, anchor=north east] at ([xshift=1.6pt,yshift=-3.4pt]ins1.south east) {4350};

% ---------------- inset 2 ----------------
\begin{axis}[inset, name=ins2, at={(147.15pt,111.3pt)},
  xmin=5000, xmax=5300, xtick={5100,5200}, minor xtick={5020,5040,...,5280}]
\addplot[obs] coordinates {
(5000,12) (5016,12) (5019,9.2) (5020,6.86) (5022,5.32) (5025,5.01) (5026,3.77) (5027,3.30) (5030,3.77) (5033,3.5)
(5035,4.23) (5038,3.6) (5041,2.53) (5044,2.84) (5046,3.77) (5049,4.23) (5052,4.54) (5055,3.92) (5057,3.77) (5060,4.39)
(5063,5.16) (5065,4.08) (5068,3.30) (5071,3.77) (5074,3.46) (5076,2.99) (5079,2.53) (5082,3.15) (5085,3.77) (5087,3.30)
(5090,2.99) (5093,2.84) (5095,2.07) (5098,2.53) (5101,2.68) (5104,3.30) (5106,3.92) (5109,2.68) (5112,2.37) (5115,3.77)
(5117,4.23) (5120,3.77) (5123,2.53) (5125,1.91) (5128,2.53) (5131,2.99) (5134,2.68) (5136,3.30) (5139,2.84) (5142,2.37)
(5145,2.07) (5147,2.68) (5150,2.84) (5153,2.99) (5155,3.92) (5158,4.23) (5161,4.23) (5164,2.84) (5166,1.91) (5169,0.98)
(5172,-0.26) (5175,-0.57) (5177,0.67) (5180,1.91) (5183,1.76) (5185,0.83) (5188,2.53) (5191,3.77) (5194,5.32) (5196,6.55)
(5199,7.33) (5202,7.95) (5205,7.17) (5207,5.32) (5210,3.77) (5213,2.99) (5215,3.46) (5218,4.08) (5221,4.54) (5224,3.77)
(5226,4.39) (5229,4.85) (5232,3.92) (5235,4.54) (5237,5.47) (5240,5.94) (5243,5.16) (5245,5.63) (5248,5.01) (5250.5,4.70)
(5251.5,9.5) (5253,0.83) (5256,3.77) (5259,3.46) (5262,4.54) (5265,3.15) (5267,2.53) (5270,3.46) (5273,4.85) (5275,5.32)
(5278,5.94) (5281,6.25) (5284,5.94) (5286,6.40) (5289,5.32) (5292,5.63) (5295,5.16) (5297,5.01) (5300,4.70)
};
\addplot[mod] coordinates {
(5000,3.46) (5003,2.99) (5008,2.84) (5014,2.53) (5019,2.68) (5025,3.15) (5030,3.61) (5035,3.92) (5041,3.30) (5046,3.77)
(5052,3.61) (5060,4.39) (5065,3.77) (5071,3.30) (5076,3.92) (5082,3.46) (5087,3.15) (5093,4.23) (5098,3.61) (5104,3.46)
(5109,3.77) (5117,4.23) (5123,3.77) (5128,3.40) (5134,3.92) (5139,3.46) (5145,3.30) (5150,3.30) (5155,3.40) (5160,4.08)
(5164,2.84) (5169,1.29) (5173,0.67) (5177,1.60) (5182,2.37) (5185,1.45) (5189,2.99) (5194,3.30) (5199,3.77) (5202,3.71)
(5206,2.84) (5209,2.53) (5213,3.30) (5218,4.08) (5221,4.39) (5226,3.92) (5232,4.08) (5237,4.85) (5242,5.01) (5245,4.70)
(5251,4.39) (5255,5.01) (5259,4.54) (5265,3.61) (5269,2.53) (5273,3.30) (5277,4.70) (5281,4.76) (5285,4.85) (5289,5.47)
(5293,5.78) (5297,5.16) (5300,4.70)
};
\end{axis}
\node[inlab, anchor=north west] at ([xshift=-1pt,yshift=-3.4pt]ins2.south west) {5000};
\node[inlab, anchor=north east] at ([xshift=2pt,yshift=-3.4pt]ins2.south east) {5300};

% ---------------- inset 3 ----------------
\begin{axis}[inset, name=ins3, at={(250.15pt,111.3pt)},
  xmin=8200, xmax=8700, xtick={8300,8400,8500,8600}]
\addplot[obs] coordinates {
(8200,4.32) (8204,5.25) (8208,3.39) (8213,5.41) (8217,4.01) (8222,5.10) (8226,3.08) (8231,4.63) (8236,4.94) (8240,5.41)
(8245,4.01) (8249,5.10) (8254,5.56) (8256,6.80) (8259,4.94) (8263,4.01) (8267,2.77) (8272,4.63) (8277,3.70) (8281,4.79)
(8286,4.01) (8290,4.48) (8295,5.10) (8299,4.32) (8304,4.01) (8308,6.80) (8311,6.96) (8314,5.87) (8318,4.01) (8322,4.32)
(8327,4.79) (8331,3.39) (8336,4.63) (8340,4.48) (8345,4.94) (8349,4.17) (8354,5.10) (8359,4.01) (8363,4.32) (8368,4.94)
(8372,4.01) (8377,4.48) (8381,4.79) (8386,3.70) (8390,4.63) (8395,4.32) (8399,2.62) (8401,9.3) (8404,9.12) (8406,4.32)
(8409,3.39) (8413,4.79) (8418,4.01) (8422,5.25) (8427,6.03) (8431,4.01) (8436,1.84) (8439,4.63) (8441,6.24) (8445,4.01)
(8450,4.63) (8454,5.72) (8459,4.01) (8463,4.17) (8468,1.38) (8472,3.70) (8477,5.25) (8481,4.01) (8486,4.48) (8491,3.39)
(8495,2.77) (8500,1.84) (8504,3.24) (8509,4.63) (8513,3.70) (8518,4.32) (8522,4.01) (8527,3.55) (8532,3.86) (8536,3.08)
(8541,1.22) (8545,0.91) (8550,2.46) (8554,3.70) (8559,4.17) (8563,4.48) (8568,4.79) (8573,5.25) (8577,4.32) (8582,5.25)
(8586,4.79) (8591,4.48) (8595,4.94) (8600,4.32) (8604,4.79) (8609,4.48) (8614,4.01) (8618,4.32) (8623,4.79) (8627,4.01)
(8632,4.48) (8636,5.25) (8641,3.55) (8645,4.63) (8650,3.70) (8655,4.01) (8659,2.77) (8664,2.77) (8668,2.62) (8672,2.6)
(8673,-2) (8700,-2)
};
\addplot[mod] coordinates {
(8200,4.32) (8206,4.79) (8213,5.25) (8219,4.79) (8226,4.17) (8234,4.94) (8240,5.56) (8249,5.41) (8258,5.41) (8267,5.56)
(8277,4.94) (8286,4.79) (8295,4.79) (8304,4.69) (8313,4.63) (8322,4.69) (8331,4.79) (8340,4.94) (8349,5.10) (8359,5.00)
(8368,4.79) (8377,4.48) (8386,4.79) (8395,5.00) (8404,4.94) (8413,4.79) (8422,4.63) (8429,4.48) (8436,4.26) (8443,4.48)
(8450,4.26) (8456,4.63) (8463,4.32) (8471,4.38) (8477,4.79) (8483,4.63) (8491,4.17) (8498,3.08) (8504,4.01) (8511,4.48)
(8518,4.38) (8524,4.32) (8532,3.39) (8538,1.84) (8543,0.76) (8547,1.84) (8553,3.70) (8559,4.48) (8568,4.63) (8582,4.63)
(8595,4.57) (8609,4.48) (8623,4.48) (8636,4.63) (8645,4.69) (8653,4.48) (8659,3.08) (8666,1.53) (8671,2.77) (8677,3.70)
(8684,4.01) (8691,3.86) (8696,4.17) (8700,4.32)
};
\end{axis}
\node[inlab, anchor=north west] at ([xshift=-0.8pt,yshift=-3.4pt]ins3.south west) {8200};
\node[inlab, anchor=north east] at ([xshift=2.2pt,yshift=-3.4pt]ins3.south east) {8700};

% ---------------- axis titles ----------------
\node[rotate=90, font=\fontsize{8.6}{10}\selectfont] at (6pt,184.3pt) {F\textsubscript{λ} (normalized)};
\node[rotate=90, font=\fontsize{8.6}{10}\selectfont] at (7pt,60.5pt) {Residual};
\node[font=\fontsize{8.6}{10}\selectfont] at (193.3pt,6pt) {λ(Å)};
\end{tikzpicture}
\end{document}
